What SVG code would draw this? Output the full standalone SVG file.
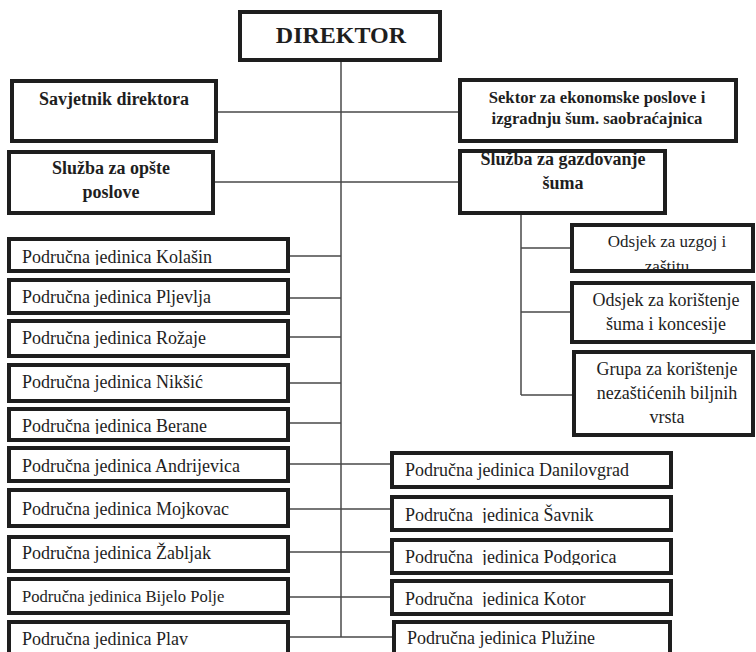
<svg xmlns="http://www.w3.org/2000/svg" width="756" height="652" viewBox="0 0 756 652">
<style>
.box{fill:#fff;stroke:#1e1e1e;stroke-width:4}
.c{stroke:#4a4a4a;stroke-width:1.5;fill:none}
.t{font-family:"Liberation Serif","Times New Roman",serif;font-size:18px;fill:#1e1e1e}
.b{font-weight:bold}
.m{text-anchor:middle}
</style>
<defs>
<clipPath id="cK"><rect x="9" y="239" width="279" height="26"/></clipPath>
<clipPath id="cB"><rect x="9" y="409" width="279" height="25"/></clipPath>
<clipPath id="cS"><rect x="392" y="497" width="279" height="26"/></clipPath>
<clipPath id="cP"><rect x="392" y="540" width="279" height="25"/></clipPath>
<clipPath id="cKo"><rect x="392" y="581" width="279" height="26"/></clipPath>
<clipPath id="cU"><rect x="572" y="225" width="181" height="44"/></clipPath>
</defs>
<rect width="756" height="652" fill="#fff"/>
<g id="connectors">
<path class="c" d="M341 62V637"/>
<path class="c" d="M218 112H458M215 182H458"/>
<path class="c" d="M290 256H341M290 298H341M290 337H341M290 383H341M290 423H341"/>
<path class="c" d="M290 464H390M290 509H390M290 552H390M290 597H390M290 637H392"/>
<path class="c" d="M521 215V395M521 248H572M521 312H572M521 395H574"/>
</g>
<g id="direktor"><rect class="box" x="240" y="12" width="200" height="48"/><text class="t b m" x="341" y="43" style="font-size:24px">DIREKTOR</text></g>
<g id="savjetnik"><rect class="box" x="12" y="81" width="204" height="60"/><text class="t b m" x="114" y="105">Savjetnik direktora</text></g>
<g id="sluzba-opste"><rect class="box" x="9" y="152" width="204" height="61"/><text class="t b m" x="111" y="174">Služba za opšte</text><text class="t b m" x="111" y="198">poslove</text></g>
<g id="sektor"><rect class="box" x="460" y="80" width="276" height="61"/><text class="t b m" x="597" y="103" style="font-size:16.7px">Sektor za ekonomske poslove i</text><text class="t b m" x="597" y="124" style="font-size:16.7px">izgradnju šum. saobraćajnica</text></g>
<g id="sluzba-gazdovanje"><rect class="box" x="460" y="151" width="205" height="62"/><text class="t b m" x="563" y="165">Služba za gazdovanje</text><text class="t b m" x="563" y="189">šuma</text></g>
<g id="odsjek-uzgoj"><rect class="box" x="572" y="225" width="181" height="46"/><g clip-path="url(#cU)"><text class="t m" x="667" y="247" style="font-size:17px">Odsjek za uzgoj i</text><text class="t m" x="667" y="272" style="font-size:17px">zaštitu</text></g></g>
<g id="odsjek-koristenje"><rect class="box" x="572" y="283" width="181" height="59"/><text class="t m" x="666" y="306">Odsjek za korištenje</text><text class="t m" x="666" y="330">šuma i koncesije</text></g>
<g id="grupa"><rect class="box" x="574" y="352" width="179" height="83"/><text class="t m" x="667" y="375">Grupa za korištenje</text><text class="t m" x="667" y="399">nezaštićenih biljnih</text><text class="t m" x="667" y="423">vrsta</text></g>
<g id="pj-kolasin"><rect class="box" x="9" y="239" width="279" height="32"/><text class="t" x="22" y="263" clip-path="url(#cK)">Područna jedinica Kolašin</text></g>
<g id="pj-pljevlja"><rect class="box" x="9" y="280" width="279" height="33"/><text class="t" x="22" y="303">Područna jedinica Pljevlja</text></g>
<g id="pj-rozaje"><rect class="box" x="9" y="321" width="279" height="35"/><text class="t" x="22" y="344">Područna jedinica Rožaje</text></g>
<g id="pj-niksic"><rect class="box" x="9" y="365" width="279" height="36"/><text class="t" x="22" y="388">Područna jedinica Nikšić</text></g>
<g id="pj-berane"><rect class="box" x="9" y="409" width="279" height="31"/><text class="t" x="22" y="432" clip-path="url(#cB)">Područna jedinica Berane</text></g>
<g id="pj-andrijevica"><rect class="box" x="9" y="448" width="279" height="33"/><text class="t" x="22" y="472">Područna jedinica Andrijevica</text></g>
<g id="pj-mojkovac"><rect class="box" x="9" y="490" width="279" height="36"/><text class="t" x="22" y="515">Područna jedinica Mojkovac</text></g>
<g id="pj-zabljak"><rect class="box" x="9" y="537" width="279" height="34"/><text class="t" x="22" y="559">Područna jedinica Žabljak</text></g>
<g id="pj-bijelo-polje"><rect class="box" x="9" y="579" width="279" height="34"/><text class="t" x="22" y="602" style="font-size:16.6px">Područna jedinica Bijelo Polje</text></g>
<g id="pj-plav"><rect class="box" x="9" y="622" width="279" height="40"/><text class="t" x="22" y="645">Područna jedinica Plav</text></g>
<g id="pj-danilovgrad"><rect class="box" x="392" y="453" width="279" height="34"/><text class="t" x="405" y="476">Područna jedinica Danilovgrad</text></g>
<g id="pj-savnik"><rect class="box" x="392" y="497" width="279" height="33"/><text class="t" x="405" y="521" clip-path="url(#cS)">Područna&#160; jedinica Šavnik</text></g>
<g id="pj-podgorica"><rect class="box" x="392" y="540" width="279" height="33"/><text class="t" x="405" y="563" clip-path="url(#cP)">Područna&#160; jedinica Podgorica</text></g>
<g id="pj-kotor"><rect class="box" x="392" y="581" width="279" height="33"/><text class="t" x="405" y="605" clip-path="url(#cKo)">Područna&#160; jedinica Kotor</text></g>
<g id="pj-pluzine"><rect class="box" x="394" y="622" width="276" height="40"/><text class="t" x="407" y="644">Područna jedinica Plužine</text></g>
</svg>
